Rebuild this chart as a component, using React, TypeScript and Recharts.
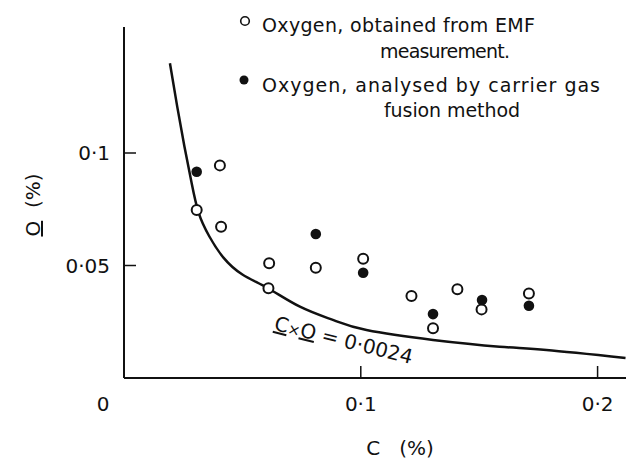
import { ComposedChart, Line, Scatter, XAxis, YAxis } from 'recharts';

// C (%) and O (%)
const emfC = [0.0405, 0.0307, 0.041, 0.0613, 0.061, 0.081, 0.101, 0.1214, 0.1305, 0.1408, 0.151, 0.171];
const emfO = [0.0945, 0.0747, 0.0672, 0.051, 0.0399, 0.049, 0.053, 0.0364, 0.0221, 0.0394, 0.0305, 0.0376];
const fusionC = [0.0307, 0.081, 0.101, 0.1305, 0.1512, 0.171];
const fusionO = [0.0917, 0.064, 0.0468, 0.0284, 0.0347, 0.0321];

// hand-drawn C x O = 0.0024 curve
const curveC = [0.0194, 0.0225, 0.0255, 0.0285, 0.0315, 0.036, 0.042, 0.05, 0.0608, 0.0743, 0.0882, 0.1024, 0.1305, 0.1586, 0.1784, 0.2118];
const curveO = [0.1399, 0.1205, 0.103, 0.087, 0.0735, 0.063, 0.0535, 0.046, 0.0399, 0.0317, 0.0258, 0.0213, 0.0169, 0.0139, 0.0124, 0.0089];

const xTicks = [0, 0.1, 0.2];
const yTicks = [0.05, 0.1];

const INK = '#111';
const FONT = '"DejaVu Sans", sans-serif';

const fmt = (v: number) => (v === 0 ? '0' : String(v).replace('.', '·'));

const zip = (cs: number[], os: number[]) => cs.map((c, i) => ({ c, o: os[i] }));

function XTick(p: any) {
  const v = p.payload.value;
  return (
    <g>
      {v !== 0 && <line x1={p.x} x2={p.x} y1={p.y} y2={p.y - 12} stroke={INK} strokeWidth={1.5} />}
      <text x={v === 0 ? p.x - 21 : p.x} y={p.y + 33} textAnchor="middle" fontSize={20} fontFamily={FONT} fill={INK}>
        {fmt(v)}
      </text>
    </g>
  );
}

function YTick(p: any) {
  const v = p.payload.value;
  return (
    <g>
      <line x1={p.x} x2={p.x + 12} y1={p.y} y2={p.y} stroke={INK} strokeWidth={1.5} />
      <text x={p.x - 14} y={p.y + 7} textAnchor="end" fontSize={20} fontFamily={FONT} fill={INK}>
        {fmt(v)}
      </text>
    </g>
  );
}

const openDot = (p: any) => <circle cx={p.cx} cy={p.cy} r={5} fill="#fff" stroke={INK} strokeWidth={2} />;
const fullDot = (p: any) => <circle cx={p.cx} cy={p.cy} r={5.3} fill={INK} />;

export default function App() {
  const txt = { fontFamily: FONT, fill: INK };
  return (
    <div style={{ position: 'absolute', left: 0, top: 0, width: 626, height: 459, background: '#fff' }}>
      <ComposedChart width={626} height={459} margin={{ top: 27, right: 0, left: 94, bottom: 51 }}>
        <XAxis
          dataKey="c"
          type="number"
          domain={[0, 0.212]}
          ticks={xTicks}
          interval={0}
          height={30}
          tickSize={0}
          tickMargin={0}
          tick={XTick}
          axisLine={{ stroke: INK, strokeWidth: 2 }}
          allowDataOverflow
        />
        <YAxis
          dataKey="o"
          type="number"
          domain={[0, 0.156]}
          ticks={yTicks}
          interval={0}
          width={30}
          tickSize={0}
          tickMargin={0}
          tick={YTick}
          axisLine={{ stroke: INK, strokeWidth: 2 }}
          allowDataOverflow
        />
        <Line
          data={zip(curveC, curveO)}
          dataKey="o"
          type="natural"
          stroke={INK}
          strokeWidth={2.5}
          dot={false}
          isAnimationActive={false}
        />
        <Scatter data={zip(emfC, emfO)} shape={openDot} isAnimationActive={false} />
        <Scatter data={zip(fusionC, fusionO)} shape={fullDot} isAnimationActive={false} />
      </ComposedChart>

      <svg width={626} height={459} style={{ position: 'absolute', left: 0, top: 0, pointerEvents: 'none' }}>
        {/* legend */}
        <circle cx={245} cy={21} r={4.3} fill="#fff" stroke={INK} strokeWidth={1.6} />
        <text x={262} y={31.5} fontSize={19} textLength={273} lengthAdjust="spacing" {...txt}>
          Oxygen, obtained from EMF
        </text>
        <text x={380} y={58} fontSize={19} textLength={130} lengthAdjust="spacing" {...txt}>
          measurement.
        </text>
        <circle cx={244} cy={80} r={4.5} fill={INK} />
        <text x={262} y={92} fontSize={19} textLength={338} lengthAdjust="spacing" {...txt}>
          Oxygen, analysed by carrier gas
        </text>
        <text x={384} y={117} fontSize={19} textLength={136} lengthAdjust="spacing" {...txt}>
          fusion method
        </text>

        {/* curve label */}
        <text transform="translate(342,347) rotate(14)" textAnchor="middle" fontSize={20} {...txt}>
          <tspan textDecoration="underline">C</tspan>
          <tspan fontSize={15}>×</tspan>
          <tspan textDecoration="underline">O</tspan>
          <tspan> = 0·0024</tspan>
        </text>

        {/* axis titles */}
        <text x={400} y={455} textAnchor="middle" fontSize={20} {...txt}>
          C{'\u00a0\u00a0\u00a0'}(%)
        </text>
        <text transform="translate(40,205) rotate(-90)" textAnchor="middle" fontSize={20} {...txt}>
          <tspan textDecoration="underline">O</tspan>
          {'\u00a0\u00a0'}(%)
        </text>
      </svg>
    </div>
  );
}
